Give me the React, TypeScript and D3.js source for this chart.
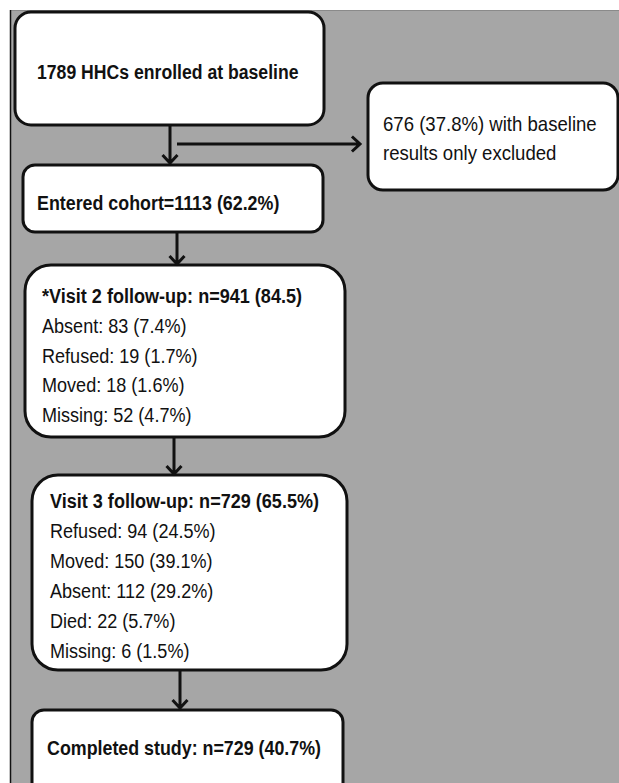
import React from "react";
import * as d3 from "d3";

const enrolledText = ["1789 HHCs enrolled at baseline"];
const cohortText = ["Entered cohort=1113 (62.2%)"];
const excludedText = ["676 (37.8%) with baseline", "results only excluded"];
const visit2Title = "*Visit 2 follow-up: n=941 (84.5)";
const visit2Lines = ["Absent: 83 (7.4%)", "Refused: 19 (1.7%)", "Moved: 18 (1.6%)", "Missing: 52 (4.7%)"];
const visit3Title = "Visit 3 follow-up: n=729 (65.5%)";
const visit3Lines = ["Refused: 94 (24.5%)", "Moved: 150 (39.1%)", "Absent: 112 (29.2%)", "Died: 22 (5.7%)", "Missing: 6 (1.5%)"];
const completedText = ["Completed study: n=729 (40.7%)"];

const W = 619;
const H = 783;
const FONT = "'Liberation Sans', Arial, sans-serif";

type Box = { x: number; y: number; w: number; h: number; r: number; tx: number; ty: number; dy: number; sx: number; title?: string; lines: string[]; boldAll?: boolean };

const boxes: Box[] = [
  { x: 15, y: 12, w: 309, h: 113, r: 16, tx: 37, ty: 79, dy: 0, sx: 0.84, lines: enrolledText, boldAll: true },
  { x: 23, y: 165, w: 300, h: 67, r: 12, tx: 37, ty: 210, dy: 0, sx: 0.85, lines: cohortText, boldAll: true },
  { x: 368, y: 83, w: 250, h: 107, r: 15, tx: 383, ty: 131, dy: 29, sx: 0.885, lines: excludedText },
  { x: 25, y: 265, w: 320, h: 172, r: 26, tx: 42, ty: 303, dy: 29.75, sx: 0.86, title: visit2Title, lines: visit2Lines },
  { x: 32, y: 475, w: 315, h: 195, r: 26, tx: 50, ty: 508, dy: 30, sx: 0.86, title: visit3Title, lines: visit3Lines },
  { x: 32, y: 710, w: 311, h: 100, r: 12, tx: 47, ty: 755, dy: 0, sx: 0.85, lines: completedText, boldAll: true },
];

type Arrow = { x1: number; y1: number; x2: number; y2: number };
const arrows: Arrow[] = [
  { x1: 170, y1: 125, x2: 170, y2: 163 },
  { x1: 177, y1: 144, x2: 360, y2: 144 },
  { x1: 177, y1: 232, x2: 177, y2: 264 },
  { x1: 174, y1: 437, x2: 174, y2: 474 },
  { x1: 180, y1: 670, x2: 180, y2: 708 },
];

function arrowPath(a: Arrow): string {
  const p = d3.path();
  p.moveTo(a.x1, a.y1);
  p.lineTo(a.x2, a.y2);
  const ang = Math.atan2(a.y2 - a.y1, a.x2 - a.x1);
  const L = 11;
  const spread = Math.PI / 4.2;
  p.moveTo(a.x2 - L * Math.cos(ang - spread), a.y2 - L * Math.sin(ang - spread));
  p.lineTo(a.x2, a.y2);
  p.lineTo(a.x2 - L * Math.cos(ang + spread), a.y2 - L * Math.sin(ang + spread));
  return p.toString();
}

function Label({ x, y, sx, bold, text }: { x: number; y: number; sx: number; bold: boolean; text: string }) {
  return (
    <text transform={`translate(${x},${y}) scale(${sx},1)`} fontFamily={FONT} fontSize={21}
      fontWeight={bold ? "bold" : "normal"} fill="#111">{text}</text>
  );
}

export default function App() {
  return (
    <svg width={W} height={H} style={{ position: "absolute", left: 0, top: 0, display: "block" }}>
      <rect x={0} y={0} width={W} height={H} fill="#ffffff" />
      <rect x={10} y={10} width={W - 10} height={H - 10} fill="#a6a6a6" />
      <line x1={10} y1={10.5} x2={W} y2={10.5} stroke="#8a8a8a" strokeWidth={1} />
      <line x1={10.5} y1={10} x2={10.5} y2={H} stroke="#111" strokeWidth={1.5} />
      {boxes.map((b, i) => (
        <g key={i}>
          <rect x={b.x} y={b.y} width={b.w} height={b.h} rx={b.r} ry={b.r} fill="#fff" stroke="#111" strokeWidth={3} />
          {b.title && <Label x={b.tx} y={b.ty} sx={b.sx} bold={true} text={b.title} />}
          {b.lines.map((l, j) => (
            <Label key={j} x={b.tx} y={b.ty + (j + (b.title ? 1 : 0)) * b.dy} sx={b.sx} bold={!!b.boldAll} text={l} />
          ))}
        </g>
      ))}
      {arrows.map((a, i) => (
        <path key={i} d={arrowPath(a)} fill="none" stroke="#111" strokeWidth={3} strokeLinecap="butt" strokeLinejoin="miter" />
      ))}
    </svg>
  );
}
